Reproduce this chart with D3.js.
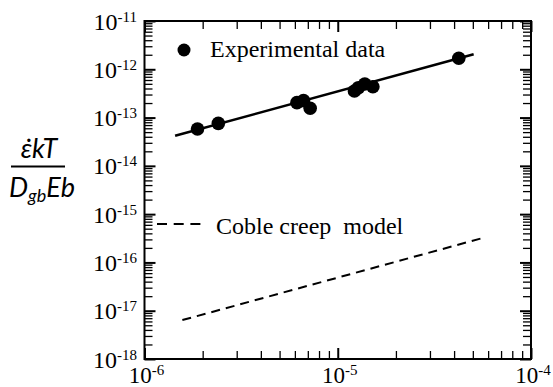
<!DOCTYPE html>
<html>
<head>
<meta charset="utf-8">
<script src="https://cdn.jsdelivr.net/npm/d3@7"></script>
<style>
  body { margin: 0; background: #fff; }
  svg { display: block; }
</style>
</head>
<body>
<div id="viz"></div>
<script>
// experimental points (stress-normalised, x) and normalised strain rate (y)
var expX = [1.88e-6, 2.41e-6, 6.15e-6, 6.65e-6, 7.2e-6, 1.22e-5, 1.28e-5, 1.38e-5, 1.52e-5, 4.23e-5];
var expY = [5.8e-14, 7.6e-14, 2.04e-13, 2.24e-13, 1.56e-13, 3.56e-13, 4.16e-13, 4.97e-13, 4.36e-13, 1.69e-12];

// fitted line through the experimental data
var fitX = [1.44e-6, 5.05e-5];
var fitY = [4.2e-14, 2.05e-12];

// coble creep model prediction
var cobleX = [1.57e-6, 5.57e-5];
var cobleY = [6.4e-18, 3.17e-16];

var xDecades = [-6, -5, -4];
var yDecades = [-11, -12, -13, -14, -15, -16, -17, -18];

var w = 553, h = 387;
var margin = { top: 21, right: 22, bottom: 28, left: 144.5 };

var x = d3.scaleLog().domain([1e-6, 1e-4]).range([margin.left, w - margin.right]);
var y = d3.scaleLog().domain([1e-18, 1e-11]).range([h - margin.bottom, margin.top]);

var svg = d3.select("#viz").append("svg")
  .attr("width", w)
  .attr("height", h);

// minor ticks = every tick that is not a decade
function minors(scale) {
  return scale.ticks().filter(function (d) {
    return Math.abs(Math.log10(d) - Math.round(Math.log10(d))) > 1e-6;
  });
}
var xMajor = xDecades.map(function (e) { return Math.pow(10, e); });
var yMajor = yDecades.map(function (e) { return Math.pow(10, e); });

var x0 = x.range()[0], x1 = x.range()[1];
var y0 = y.range()[0], y1 = y.range()[1];

// axes with inward ticks on all four sides
function addAxis(axis, tx, ty, vals, len, sw) {
  var g = svg.append("g")
    .attr("transform", "translate(" + tx + "," + ty + ")")
    .call(axis.tickValues(vals).tickSize(-len).tickFormat(""));
  g.select(".domain").remove();
  g.selectAll("line").attr("stroke", "#000").attr("stroke-width", sw);
}
addAxis(d3.axisBottom(x), 0, y0, minors(x), 8, 1.3);
addAxis(d3.axisBottom(x), 0, y0, xMajor, 11, 2);
addAxis(d3.axisTop(x), 0, y1, minors(x), 8, 1.3);
addAxis(d3.axisTop(x), 0, y1, xMajor, 11, 2);
addAxis(d3.axisLeft(y), x0, 0, minors(y), 8, 1.3);
addAxis(d3.axisLeft(y), x0, 0, yMajor, 11, 2);
addAxis(d3.axisRight(y), x1, 0, minors(y), 8, 1.3);
addAxis(d3.axisRight(y), x1, 0, yMajor, 11, 2);

// frame
svg.append("rect")
  .attr("x", x0).attr("y", y1)
  .attr("width", x1 - x0).attr("height", y0 - y1)
  .attr("fill", "none").attr("stroke", "#000").attr("stroke-width", 2);

// tick labels
var serif = "'Liberation Serif', 'Times New Roman', serif";
function powLabel(sel, e) {
  sel.append("tspan").text("10");
  sel.append("tspan").attr("dy", -8).style("font-size", "15px").text("-" + Math.abs(e));
}
yDecades.forEach(function (e) {
  var t = svg.append("text")
    .attr("x", 137)
    .attr("y", y(Math.pow(10, e)) + 8.5)
    .attr("text-anchor", "end")
    .style("font-family", serif)
    .style("font-size", "24px");
  powLabel(t, e);
});
xDecades.forEach(function (e) {
  var t = svg.append("text")
    .attr("x", x(Math.pow(10, e)) + 2)
    .attr("y", 383)
    .attr("text-anchor", "middle")
    .style("font-family", serif)
    .style("font-size", "23px");
  powLabel(t, e);
});

// fit line and coble model
var line = d3.line()
  .x(function (d) { return x(d[0]); })
  .y(function (d) { return y(d[1]); });

svg.append("path")
  .datum(d3.zip(fitX, fitY))
  .attr("d", line)
  .attr("fill", "none").attr("stroke", "#000").attr("stroke-width", 2.5);

svg.append("path")
  .datum(d3.zip(cobleX, cobleY))
  .attr("d", line)
  .attr("fill", "none").attr("stroke", "#000").attr("stroke-width", 2)
  .attr("stroke-dasharray", "9,6");

// experimental points
svg.selectAll("circle.pt")
  .data(d3.zip(expX, expY))
  .enter().append("circle")
  .attr("class", "pt")
  .attr("cx", function (d) { return x(d[0]); })
  .attr("cy", function (d) { return y(d[1]); })
  .attr("r", 6.8)
  .attr("fill", "#000");

// legend
svg.append("circle").attr("cx", 184).attr("cy", 50).attr("r", 6.5).attr("fill", "#000");
svg.append("text").text("Experimental data")
  .attr("x", 210).attr("y", 57)
  .style("font-family", serif).style("font-size", "24px");

svg.append("line")
  .attr("x1", 157).attr("x2", 201).attr("y1", 224).attr("y2", 224)
  .attr("stroke", "#000").attr("stroke-width", 2)
  .attr("stroke-dasharray", "10,6.7");
svg.append("text").text("Coble creep\u00A0 model")
  .attr("x", 216).attr("y", 234)
  .style("font-family", serif).style("font-size", "24px");

// y-axis label as a fraction
var sans = "Lato, 'Open Sans', sans-serif";
svg.append("text").text("\u03B5\u0307kT")
  .attr("x", 39).attr("y", 158)
  .attr("text-anchor", "middle")
  .style("font-family", sans).style("font-style", "italic").style("font-size", "27px");
svg.append("line")
  .attr("x1", 11).attr("x2", 65).attr("y1", 166.5).attr("y2", 166.5)
  .attr("stroke", "#000").attr("stroke-width", 1.8);
var den = svg.append("text")
  .attr("x", 9).attr("y", 197)
  .style("font-family", sans).style("font-style", "italic").style("font-size", "27px");
den.append("tspan").text("D");
den.append("tspan").attr("dy", 5).style("font-size", "18px").text("gb");
den.append("tspan").attr("dy", -5).text("Eb");
</script>
</body>
</html>
